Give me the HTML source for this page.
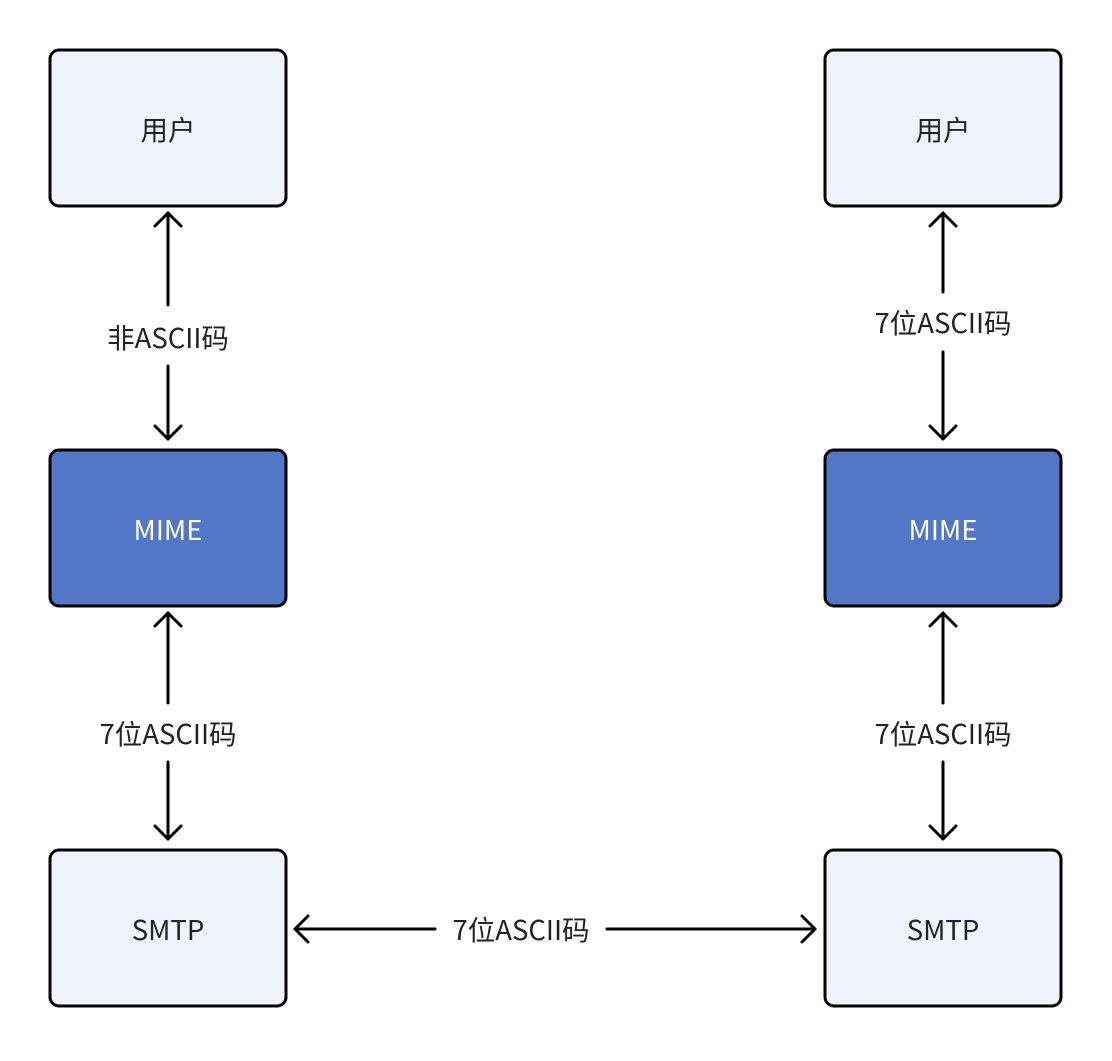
<!DOCTYPE html>
<html><head><meta charset="utf-8"><style>
body{margin:0;background:#fff;width:1112px;height:1056px;overflow:hidden}
</style></head><body>
<svg width="1112" height="1056" xmlns="http://www.w3.org/2000/svg" style="font-family:'Noto Sans CJK SC','Liberation Sans',sans-serif">
<g stroke="#000" stroke-width="3">
<rect x="50" y="50" width="236" height="156" rx="9" fill="#eef3fc"/>
<rect x="825" y="50" width="236" height="156" rx="9" fill="#eef3fc"/>
<rect x="50" y="450" width="236" height="156" rx="9" fill="#5177c6"/>
<rect x="825" y="450" width="236" height="156" rx="9" fill="#5177c6"/>
<rect x="50" y="850" width="236" height="156" rx="9" fill="#eef3fc"/>
<rect x="825" y="850" width="236" height="156" rx="9" fill="#eef3fc"/>
</g>
<g stroke="#000" stroke-width="3" fill="none" stroke-linecap="round" stroke-linejoin="round">
<line x1="168" y1="213" x2="168" y2="305"/><line x1="168" y1="366" x2="168" y2="439"/>
<polyline points="155,226 168,213 181,226"/><polyline points="155,426 168,439 181,426"/>
<line x1="943" y1="213" x2="943" y2="292"/><line x1="943" y1="352" x2="943" y2="439"/>
<polyline points="930,226 943,213 956,226"/><polyline points="930,426 943,439 956,426"/>
<line x1="168" y1="613" x2="168" y2="703"/><line x1="168" y1="762" x2="168" y2="839"/>
<polyline points="155,626 168,613 181,626"/><polyline points="155,826 168,839 181,826"/>
<line x1="943" y1="613" x2="943" y2="703"/><line x1="943" y1="762" x2="943" y2="839"/>
<polyline points="930,626 943,613 956,626"/><polyline points="930,826 943,839 956,826"/>
<line x1="295" y1="929" x2="435" y2="929"/><line x1="607" y1="929" x2="815" y2="929"/>
<polyline points="308,916 295,929 308,942"/><polyline points="802,916 815,929 802,942"/>
</g>
<g font-size="27.5" text-anchor="middle" fill="#222">
<text x="168" y="140">用户</text><text x="943" y="140">用户</text>
<text x="168" y="540" fill="#fff">MIME</text><text x="943" y="540" fill="#fff">MIME</text>
<text x="168" y="940">SMTP</text><text x="943" y="940">SMTP</text>
<text x="168" y="348">非ASCII码</text>
<text x="943" y="333">7位ASCII码</text>
<text x="168" y="744">7位ASCII码</text>
<text x="943" y="744">7位ASCII码</text>
<text x="521" y="940">7位ASCII码</text>
</g>
</svg>
</body></html>
